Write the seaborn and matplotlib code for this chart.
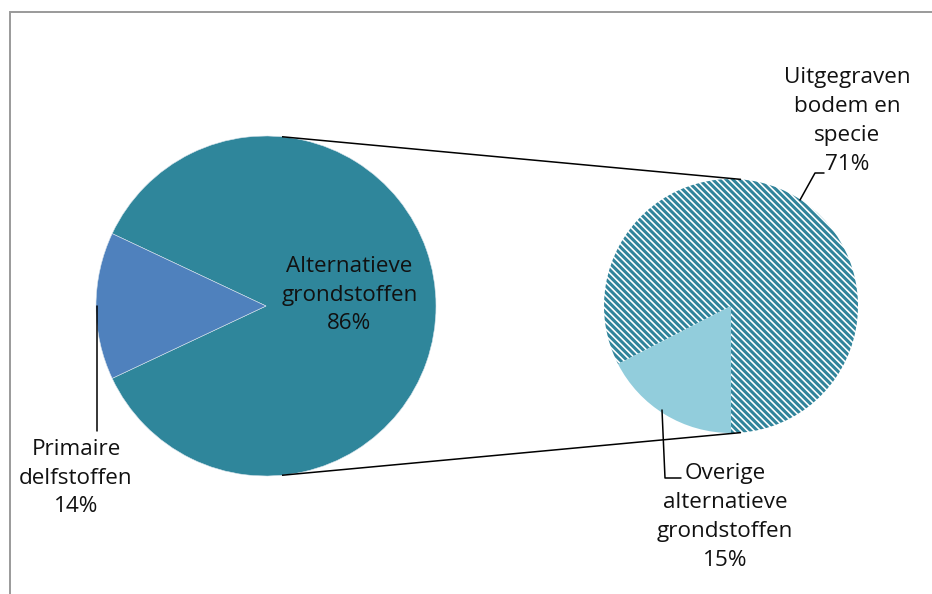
import numpy as np
import matplotlib
matplotlib.use("Agg")
import matplotlib.pyplot as plt
from matplotlib.patches import Rectangle
import seaborn as sns

# Main split of raw materials
main_labels = ["Alternatieve\ngrondstoffen", "Primaire\ndelfstoffen"]
main_values = [86, 14]

# Breakdown of the alternative raw materials
sub_labels = ["Uitgegraven\nbodem en\nspecie", "Overige\nalternatieve\ngrondstoffen"]
sub_values = [71, 15]

main_colors = ["#2F869B", "#4F81BD"]
sub_colors = ["#31849B", "#92CDDC"]

sns.set_theme(style="white")
plt.rcParams["font.family"] = ["Open Sans", "DejaVu Sans"]
plt.rcParams["hatch.linewidth"] = 2.2
plt.rcParams["hatch.color"] = "#31849B"

W, H = 932, 594
fig = plt.figure(figsize=(W / 100, H / 100), dpi=100)
ax = fig.add_axes([0, 0, 1, 1])


def py(y):
    return H - y


# frame around the chart area
fig.patches.append(Rectangle((10 / W, -0.05), 1.1, (H - 12) / H + 0.05,
                             transform=fig.transFigure, fill=False,
                             edgecolor="#9a9a9a", linewidth=1.4))

# left pie: main split, small slice centred on the left side
c1, r1 = (266, py(306)), 170
small_deg = main_values[1] / sum(main_values) * 360
w1, _ = ax.pie(main_values, colors=main_colors, center=c1, radius=r1,
               startangle=180 + small_deg / 2, counterclock=True,
               wedgeprops=dict(edgecolor="#d8e4ec", linewidth=0.4),
               frame=True)

# right pie: breakdown of the alternative share
c2, r2 = (731, py(306)), 127
w2, _ = ax.pie(sub_values, colors=["white", sub_colors[1]], center=c2,
               radius=r2, startangle=270, counterclock=True,
               wedgeprops=dict(linewidth=0), frame=True)
w2[0].set_hatch("\\\\\\\\\\")
w2[0].set_edgecolor(sub_colors[0])
w2[0].set_linewidth(0)

ax.set_xlim(0, W)
ax.set_ylim(0, H)
ax.set_aspect("equal")
ax.axis("off")

# connector lines between the two pies
for a1, a2 in [(84.6, 85.5), (-84.6, -85.5)]:
    p1 = (c1[0] + r1 * np.cos(np.radians(a1)), c1[1] + r1 * np.sin(np.radians(a1)))
    p2 = (c2[0] + r2 * np.cos(np.radians(a2)), c2[1] + r2 * np.sin(np.radians(a2)))
    ax.plot([p1[0], p2[0]], [p1[1], p2[1]], color="black", lw=1.1,
            solid_capstyle="butt", zorder=5)

fs = 16.2
txt = dict(ha="center", va="center", fontsize=fs, color="#111111",
           linespacing=1.48)

ax.text(349.5, py(295), f"{main_labels[0]}\n{main_values[0]}%", **txt)
ax.text(76, py(478), f"{main_labels[1]}\n{main_values[1]}%", **txt)
ax.text(847, py(121), f"{sub_labels[0]}\n{sub_values[0]}%", **txt)
ax.text(725, py(517), f"{sub_labels[1]}\n{sub_values[1]}%", **txt)

# leader lines
lk = dict(color="black", lw=1.1, zorder=6)
ax.plot([97, 97], [py(306), py(431)], **lk)
ax.plot([800, 815, 824], [py(200), py(173), py(173)], **lk)
ax.plot([662, 665, 681], [py(410), py(478), py(478)], **lk)

fig.savefig("out.png", dpi=100)
